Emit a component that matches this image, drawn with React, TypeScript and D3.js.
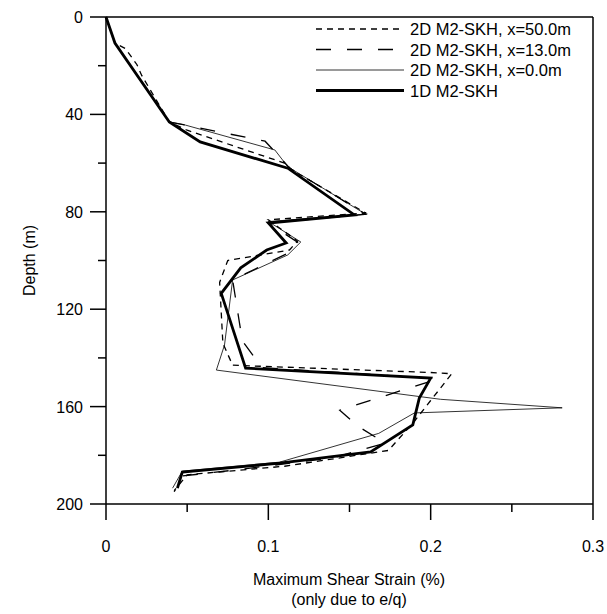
import React from "react";
import * as d3 from "d3";

// ---- data ----
const strain1D = [0, 0.0055, 0.039, 0.058, 0.112, 0.153, 0.1, 0.111, 0.099, 0.083, 0.071, 0.086, 0.2, 0.193, 0.189, 0.163, 0.107, 0.047, 0.044];
const depth1D = [0, 10.7, 43.1, 51.3, 62.1, 81.3, 84.6, 92.8, 95.7, 103, 113.5, 144.2, 148.3, 156.5, 167.5, 178.6, 183.2, 186.9, 193.5];

const strainX0 = [0, 0.0055, 0.039, 0.049, 0.104, 0.112, 0.16, 0.1, 0.12, 0.112, 0.078, 0.073, 0.068, 0.206, 0.281, 0.19, 0.168, 0.107, 0.047, 0.041];
const depthX0 = [0, 10.7, 43.1, 44.4, 54.6, 61.5, 81, 84, 92.4, 97.7, 108, 134.7, 145, 157, 160.5, 162.6, 171, 182.8, 186.5, 193.5];

const strainX13 = [0, 0.0055, 0.039, 0.049, 0.098, 0.105, 0.113, 0.16, 0.1, 0.118, 0.112, 0.078, 0.084, 0.096, 0.205, 0.144, 0.155, 0.172, 0.14, 0.08, 0.047, 0.042];
const depthX13 = [0, 10.7, 43.1, 44.4, 51, 56, 62, 81, 84.6, 92.5, 97, 108, 133, 144, 148.5, 161.5, 168, 175, 181, 186, 188.5, 195];

const strainX50 = [0, 0.0055, 0.012, 0.019, 0.022, 0.039, 0.05, 0.11, 0.115, 0.16, 0.1, 0.118, 0.113, 0.075, 0.07, 0.072, 0.078, 0.2, 0.213, 0.2, 0.19, 0.174, 0.11, 0.05, 0.042];
const depthX50 = [0, 10.7, 13, 19.5, 24, 43.1, 46.5, 60, 63, 80.5, 83.3, 92, 95.7, 100, 109, 134, 143, 146, 146.5, 157.5, 166, 178, 184.5, 188, 194.5];

const xMajorTicks = [0, 0.1, 0.2, 0.3];
const xMinorTicks = [0.05, 0.15, 0.25];
const yMajorTicks = [0, 40, 80, 120, 160, 200];
const yMinorTicks = [20, 60, 100, 140, 180];

const seriesNames = ["2D M2-SKH, x=50.0m", "2D M2-SKH, x=13.0m", "2D M2-SKH, x=0.0m", "1D M2-SKH"];

const FONT = "'Liberation Sans', Arial, sans-serif";

export default function App() {
  const left = 106, right = 593, top = 17, bottom = 504;
  const x = d3.scaleLinear().domain([0, 0.3]).range([left, right]);
  const y = d3.scaleLinear().domain([0, 200]).range([top, bottom]);

  const mk = (s: number[], d: number[]) =>
    d3.line<number>().x((_, i) => x(s[i])).y((_, i) => y(d[i]))(s) || "";

  const styles = [
    { sw: 1.3, dash: "6,5" },
    { sw: 1.3, dash: "15,16" },
    { sw: 0.8, dash: undefined },
    { sw: 2.8, dash: undefined },
  ];
  const paths = [
    mk(strainX50, depthX50),
    mk(strainX13, depthX13),
    mk(strainX0, depthX0),
    mk(strain1D, depth1D),
  ];

  const fmt = (v: number) => (v === 0 ? "0" : String(v));

  return (
    <svg width={607} height={614} style={{ position: "absolute", left: 0, top: 0, background: "#fff" }} fontFamily={FONT}>
      <rect x={0} y={0} width={607} height={614} fill="#fff" />
      {paths.map((p, i) => (
        <path key={i} d={p} fill="none" stroke="#000" strokeWidth={styles[i].sw} strokeDasharray={styles[i].dash} strokeLinejoin="miter" />
      ))}
      <line x1={left} y1={top} x2={right} y2={top} stroke="#000" strokeWidth={1.5} />
      <line x1={right} y1={top} x2={right} y2={bottom} stroke="#000" strokeWidth={1.5} />
      <line x1={left} y1={top} x2={left} y2={bottom} stroke="#000" strokeWidth={1.5} />
      <line x1={left} y1={bottom} x2={right} y2={bottom} stroke="#000" strokeWidth={1.5} />
      {xMajorTicks.map((t) => (
        <g key={"xm" + t}>
          <line x1={x(t)} x2={x(t)} y1={bottom} y2={bottom + 16} stroke="#000" strokeWidth={1.5} />
          <text x={x(t)} y={552} textAnchor="middle" fontSize={16}>{fmt(t)}</text>
        </g>
      ))}
      {xMinorTicks.map((t) => (
        <line key={"xn" + t} x1={x(t)} x2={x(t)} y1={bottom} y2={bottom + 8} stroke="#000" strokeWidth={1.5} />
      ))}
      {yMajorTicks.map((t) => (
        <g key={"ym" + t}>
          <line x1={left - 16} x2={left} y1={y(t)} y2={y(t)} stroke="#000" strokeWidth={1.5} />
          <text x={83} y={y(t) + 6} textAnchor="end" fontSize={16}>{t}</text>
        </g>
      ))}
      {yMinorTicks.map((t) => (
        <line key={"yn" + t} x1={left - 8} x2={left} y1={y(t)} y2={y(t)} stroke="#000" strokeWidth={1.5} />
      ))}
      <text x={349} y={585} textAnchor="middle" fontSize={16}>Maximum Shear Strain (%)</text>
      <text x={349} y={605} textAnchor="middle" fontSize={16}>(only due to e/q)</text>
      <text transform={`translate(35,${(top + bottom) / 2}) rotate(-90)`} textAnchor="middle" fontSize={16}>Depth (m)</text>
      {seriesNames.map((n, i) => {
        const ly = 29 + i * 20.5;
        return (
          <g key={n}>
            <line x1={316} x2={404} y1={ly} y2={ly} stroke="#000" strokeWidth={styles[i].sw} strokeDasharray={styles[i].dash} />
            <text x={410} y={ly + 6} fontSize={16.5}>{n}</text>
          </g>
        );
      })}
    </svg>
  );
}
